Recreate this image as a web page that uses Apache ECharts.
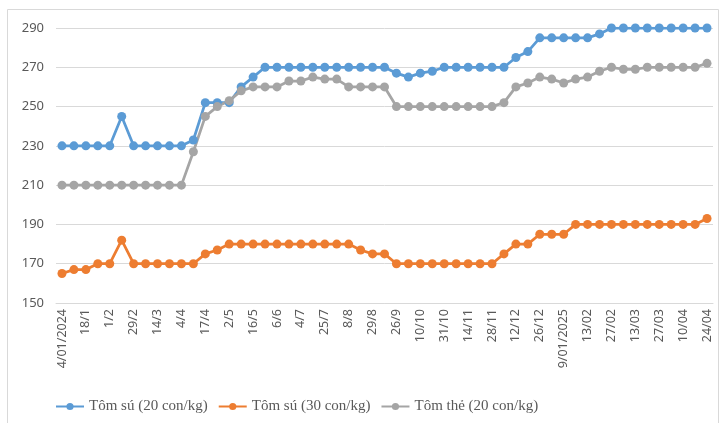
<!DOCTYPE html>
<html><head><meta charset="utf-8">
<script src="https://cdn.jsdelivr.net/npm/echarts@6/dist/echarts.min.js"></script>
<style>html,body{margin:0;padding:0;background:#fff}#c{width:720px;height:423px}</style>
</head><body><div id="c"></div>
<script>
const categories = ["4/01/2024","11/1","18/1","25/1","1/2","15/2","29/2","7/3","14/3","21/3","4/4","11/4","17/4","25/4","2/5","9/5","16/5","23/5","6/6","20/6","4/7","11/7","25/7","1/8","8/8","15/8","29/8","12/9","26/9","3/10","10/10","24/10","31/10","7/11","14/11","21/11","28/11","5/12","12/12","19/12","26/12","2/01","9/01/2025","6/02","13/02","20/02","27/02","6/03","13/03","20/03","27/03","3/04","10/04","17/04","24/04"];
const tomSu20 = [230,230,230,230,230,245,230,230,230,230,230,233,252,252,252,260,265,270,270,270,270,270,270,270,270,270,270,270,267,265,267,268,270,270,270,270,270,270,275,278,285,285,285,285,285,287,290,290,290,290,290,290,290,290,290];
const tomSu30 = [165,167,167,170,170,182,170,170,170,170,170,170,175,177,180,180,180,180,180,180,180,180,180,180,180,177,175,175,170,170,170,170,170,170,170,170,170,175,180,180,185,185,185,190,190,190,190,190,190,190,190,190,190,190,193];
const tomThe20 = [210,210,210,210,210,210,210,210,210,210,210,227,245,250,253,258,260,260,260,263,263,265,264,264,260,260,260,260,250,250,250,250,250,250,250,250,250,252,260,262,265,264,262,264,265,268,270,269,269,270,270,270,270,270,272];
const seriesNames = ["Tôm sú (20 con/kg)","Tôm sú (30 con/kg)","Tôm thẻ (20 con/kg)"];
const colors = ["#5B9BD5","#ED7D31","#A5A5A5"];

const chart = echarts.init(document.getElementById('c'), null, {renderer:'canvas'});
function mk(name, data, color){
  return {name, type:'line', data, symbol:'circle', symbolSize:9, showSymbol:true, showAllSymbol:true,
    itemStyle:{color}, lineStyle:{color, width:2.75}, animation:false};
}
chart.setOption({
  animation:false,
  graphic:[{type:'rect', shape:{x:7.5,y:9.5,width:711,height:420}, style:{fill:'none', stroke:'#d9d9d9', lineWidth:1}, silent:true, z:-1}],
  grid:{left:56, right:7, top:28, bottom:120, containLabel:false},
  xAxis:{type:'category', data:categories, boundaryGap:true,
    axisLine:{show:true, lineStyle:{color:'#d9d9d9', width:1}},
    axisTick:{show:false},
    axisLabel:{interval:1, rotate:90, color:'#595959', fontSize:12.5, fontFamily:'Noto Sans', margin:6}},
  yAxis:{type:'value', min:150, max:290, interval:20,
    axisLine:{show:false}, axisTick:{show:false},
    splitLine:{lineStyle:{color:'#d9d9d9', width:1}},
    axisLabel:{color:'#595959', fontSize:13, fontFamily:'Noto Sans', margin:12}},
  legend:{data:seriesNames, left:50, top:394, itemWidth:28, itemHeight:9, itemGap:10,
    textStyle:{fontFamily:'Liberation Serif', fontSize:15, color:'#595959'}},
  series:[mk(seriesNames[0], tomSu20, colors[0]), mk(seriesNames[1], tomSu30, colors[1]), mk(seriesNames[2], tomThe20, colors[2])]
});
</script></body></html>
